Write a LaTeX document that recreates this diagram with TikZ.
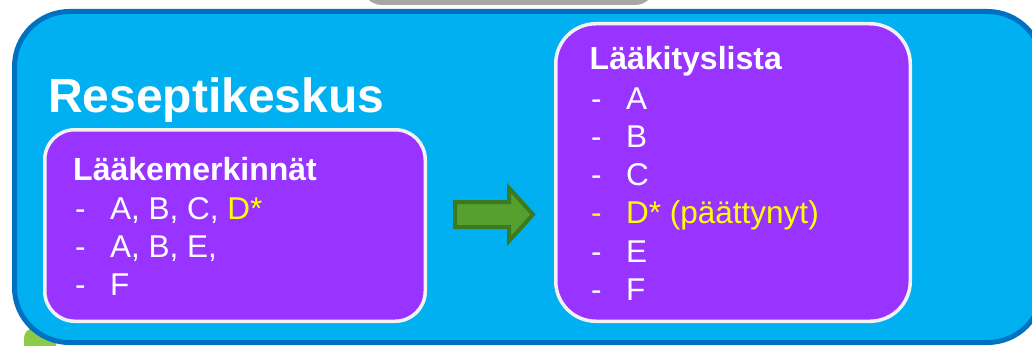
\documentclass[tikz,border=0pt]{standalone}
\usepackage{fontspec}
\setmainfont{Liberation Sans}
\definecolor{bluefill}{HTML}{00B0F0}
\definecolor{blueline}{HTML}{0070C0}
\definecolor{boxfill}{HTML}{9933FF}
\definecolor{boxline}{HTML}{F2F2F2}
\definecolor{arrowfill}{HTML}{55A02F}
\definecolor{arrowline}{HTML}{3B7A1E}
\definecolor{topgray}{HTML}{A6A6A6}
\definecolor{leafgreen}{HTML}{8CCB4A}
\definecolor{hilite}{HTML}{FFFF00}
\begin{document}
\begin{tikzpicture}[x=1pt,y=-1pt,
 panel/.style={draw=blueline, fill=bluefill, line width=5pt, rounded corners=55pt,
   minimum width=1028pt, minimum height=331pt, inner sep=0},
 listbox/.style={draw=boxline, fill=boxfill, line width=3.5pt, inner sep=0},
 big/.style={anchor=base west, inner sep=0, text=white, font=\fontsize{48}{56}\selectfont\bfseries},
 head/.style={anchor=base west, inner sep=0, text=white, font=\fontsize{32}{38}\selectfont\bfseries},
 item/.style={anchor=base west, inner sep=0, text=white, font=\fontsize{31.5}{38}\selectfont},
 hl/.style={text=hilite},
 blockarrow/.style={line width=4pt, draw=arrowline, fill=arrowfill, line join=miter}]
\useasboundingbox (0,0) rectangle (1032,345);
% background shapes peeking out
\fill[topgray, rounded corners=20pt] (362,-40) rectangle (655,5);
\fill[leafgreen, rounded corners=10pt] (24,328) rectangle (56,380);
% main panel
\node[panel] (panel) at (528.5,177) {};
\node[big] (title) at (48,112) {Reseptikeskus};
% left box
\node[listbox, rounded corners=30pt, minimum width=380.5pt, minimum height=191.5pt] (leftbox) at (235,225.5) {};
\node[head] (lhead) at (73,180) {Lääkemerkinnät};
\node[item] (ld1) at (75,219) {-};
\node[item] (li1) at (110,219) {A, B, C, \textcolor{hilite}{D*}};
\node[item] (ld2) at (75,257) {-};
\node[item] (li2) at (110,257) {A, B, E,};
\node[item] (ld3) at (75,295) {-};
\node[item] (li3) at (110,295) {F};
% right box
\node[listbox, rounded corners=40pt, minimum width=354.5pt, minimum height=297.5pt] (rightbox) at (733,172.5) {};
\node[head] (rhead) at (589.5,70) {Lääkityslista};
\node[item] (rd1) at (591,109) {-};
\node[item] (ri1) at (626,109) {A};
\node[item] (rd2) at (591,147) {-};
\node[item] (ri2) at (626,147) {B};
\node[item] (rd3) at (591,185) {-};
\node[item] (ri3) at (626,185) {C};
\node[item, hl] (rd4) at (591,223) {-};
\node[item, hl] (ri4) at (626,223) {D* (päättynyt)};
\node[item] (rd5) at (591,262) {-};
\node[item] (ri5) at (626,262) {E};
\node[item] (rd6) at (591,300) {-};
\node[item] (ri6) at (626,300) {F};
% block arrow
\coordinate (atail) at (455,214.5);
\draw[blockarrow] (atail) ++(0,-12.5) -- ++(54,0) -- ++(0,-14) -- ++(24,26.5) -- ++(-24,26.5) -- ++(0,-14) -- ++(-54,0) -- cycle;
\end{tikzpicture}
\end{document}
